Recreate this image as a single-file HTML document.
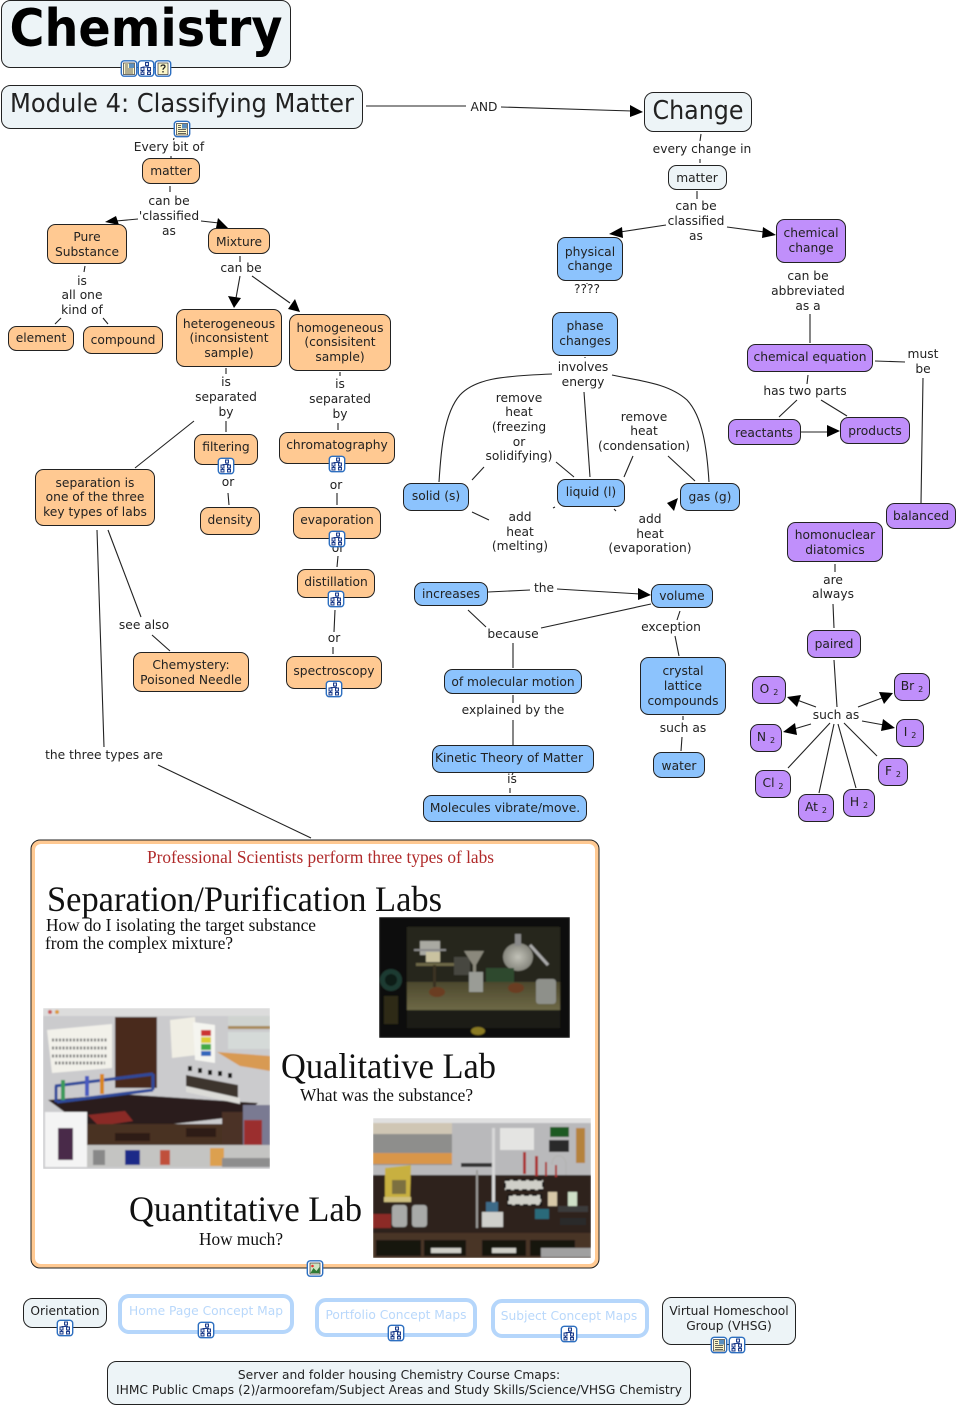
<!DOCTYPE html>
<html><head><meta charset="utf-8"><title>Chemistry</title>
<style>
html,body{margin:0;padding:0;background:#fff;width:958px;height:1406px;overflow:hidden}
svg{display:block;font-family:"DejaVu Sans","Liberation Sans",sans-serif}
text{font-size:12.25px;fill:#222;text-anchor:middle}
.n{stroke:#222;stroke-width:1}
.o{fill:#ffc992}.b{fill:#8cc3fd}.p{fill:#c08ffb}.w{fill:#edf4f7}
.l{fill:none;stroke:#222;stroke-width:1.1}
.h{fill:#fff;stroke:#b5d6fb;stroke-width:4}
.s{font-family:"Liberation Serif",serif;text-anchor:start;fill:#111}
</style></head><body>
<svg width="958" height="1406" viewBox="0 0 958 1406" xmlns="http://www.w3.org/2000/svg">
<defs>
<symbol id="im" viewBox="0 0 17 17"><rect x=".8" y=".8" width="15.4" height="15.4" rx="3" fill="#fff" stroke="#2d6fc0" stroke-width="1.4"/><g fill="none" stroke="#1d3c8a" stroke-width="1"><rect x="8" y="2.5" width="3" height="3" fill="#dfe6f5"/><rect x="3.5" y="7.5" width="3" height="3" fill="#dfe6f5"/><rect x="10" y="7.5" width="3" height="3" fill="#dfe6f5"/><rect x="3.5" y="12" width="3" height="2.5" fill="#dfe6f5"/><rect x="10" y="12" width="3" height="2.5" fill="#dfe6f5"/><path d="M9.5 5.5V7M5 7H11.5M5 10.5V12M11.5 10.5V12"/></g></symbol>
<symbol id="in" viewBox="0 0 17 17"><rect x=".8" y=".8" width="15.4" height="15.4" rx="3" fill="#fff" stroke="#2d6fc0" stroke-width="1.4"/><rect x="3" y="3" width="11" height="11.5" fill="#fbf6c8" stroke="#333" stroke-width=".7"/><rect x="8.5" y="3.5" width="5" height="4.5" fill="#5a8fc0"/><path d="M4.5 5h3M4.5 7h3M4.5 9h8M4.5 11h8M4.5 13h8" stroke="#333" stroke-width=".8"/></symbol>
<symbol id="iq" viewBox="0 0 17 17"><rect x=".8" y=".8" width="15.4" height="15.4" rx="3" fill="#fff" stroke="#2d6fc0" stroke-width="1.4"/><rect x="3.5" y="3" width="10" height="11.5" fill="#fbf6c8" stroke="#333" stroke-width=".7"/><path d="M6.5 6.5c0-2 4-2 4 0 0 1.600-2 1.500-2 3.200M8.500 11v1.500" fill="none" stroke="#222" stroke-width="1.300"/></symbol>
<symbol id="ip" viewBox="0 0 17 17"><rect x=".8" y=".8" width="15.4" height="15.4" rx="3" fill="#fff" stroke="#2d6fc0" stroke-width="1.4"/><rect x="3.500" y="3" width="10" height="11" fill="#cfe3c0" stroke="#333" stroke-width=".7"/><path d="M4 13l3-5 3 3 3-4v6z" fill="#2f7a35"/><circle cx="6" cy="6" r="1.300" fill="#e33"/></symbol>
<linearGradient id="tab" x1="0" y1="0" x2="0" y2="1"><stop offset="0" stop-color="#4c482d"/><stop offset="1" stop-color="#6d6846"/></linearGradient>
<radialGradient id="gl"><stop offset="0" stop-color="#c2c2b8"/><stop offset="1" stop-color="#85857c"/></radialGradient>
<filter id="bl" x="0" y="0" width="1" height="1"><feGaussianBlur stdDeviation=".8"/></filter>
<clipPath id="c1"><rect x="379" y="917" width="191" height="121"/></clipPath>
<clipPath id="c2"><rect x="43" y="1008" width="227" height="161"/></clipPath>
<clipPath id="c3"><rect x="373" y="1118" width="218" height="140"/></clipPath>
</defs>

<!-- connectors -->
<g class="l">
<path d="M174 138l-.5 2M171 156v2M170 186v6"/>
<path d="M138 219L116 221M201 221L219 223"/>
<path d="M240 256v6M240 276L236 298M252 276L290 303"/>
<path d="M85 266l-1 6M61 318l-6 6M103 318l5 6"/>
<path d="M226 368v6M226 421v11M194 421L135 468"/>
<path d="M228 493l1 12M340 372v4M338 423v7M337 493v12M338 556l-1 11M335 610l-1 22M333 647v7"/>
<path d="M108 530L141 617M152 635L170 651M97 530L104 747M158 765L311 838"/>
<path d="M366 106H466M501 107L632 111"/>
<path d="M701 134l-1 7M700 159v4M697 191v8M666 225L620 232M727 227L764 232"/>
<path d="M587 283v1M585 357v1"/>
<path d="M552 374C500 376 475 379 460 395C444 413 441 450 439 482"/>
<path d="M584 392L590 477"/>
<path d="M612 375C640 381 668 383 687 400C703 417 707 450 709 482"/>
<path d="M484 467L472 480M556 462L574 477M633 456L624 477M668 456L695 481M472 512L489 520M553 508l2-1M614 509l2 2"/>
<path d="M488 592L530 590M557 589L640 594M468 610L486 627M541 628L651 604M513 643V668"/>
<path d="M513 695v8M513 720V745M513 773l-1 2M510 788v5M680 611l-3 9M675 636L679 656M683 716v4M682 737l-1 14"/>
<path d="M810 314V343M875 361L905 362M923 378L921 503M808 375l-1 9M797 400L779 417M821 400L847 416M801 432H829"/>
<path d="M835 564v8M833 604l1 24M834 660L837 707M816 707L797 700M811 724L794 729M858 707L882 698M862 721L884 725"/>
<path d="M830 723L788 768M834 724L819 793M838 724L856 788M844 723L877 756"/>
</g>
<g fill="#000">
<polygon points="105,222 116,216 119,225"/>
<polygon points="228,228 218,218 216,228"/>
<polygon points="234,308 228,296 241,298"/>
<polygon points="300,312 288,309 295,299"/>
<polygon points="643,112 630,105 630,117"/>
<polygon points="609,234 622,227 623,238"/>
<polygon points="776,235 763,227 762,238"/>
<polygon points="678,498 667,503 674,511"/>
<polygon points="840,431 827,425 827,437"/>
<polygon points="651,595 638,588 638,600"/>
<polygon points="787,697 801,695 797,707"/>
<polygon points="783,732 797,735 795,723"/>
<polygon points="893,693 884,704 879,692"/>
<polygon points="895,728 883,719 881,731"/>
</g>

<!-- nodes -->
<g class="n">
<rect class="w" x="1.500" y=".5" width="289" height="67" rx="9"/>
<rect class="w" x="1.500" y="85.500" width="361" height="43" rx="9"/>
<rect class="w" x="644.500" y="92.500" width="107" height="39" rx="9"/>
<rect class="w" x="668.500" y="165.500" width="58" height="24" rx="8"/>
<g class="o">
<rect x="142.500" y="158.500" width="57" height="25" rx="8"/>
<rect x="47.500" y="224.500" width="79" height="39" rx="8"/>
<rect x="208.500" y="228.500" width="61" height="25" rx="8"/>
<rect x="8.500" y="326.500" width="65" height="24" rx="8"/>
<rect x="83.500" y="326.500" width="79" height="27" rx="8"/>
<rect x="176.500" y="309.500" width="105" height="57" rx="8"/>
<rect x="289.500" y="314.500" width="101" height="56" rx="8"/>
<rect x="194.500" y="434.500" width="63" height="30" rx="8"/>
<rect x="200.500" y="507.500" width="59" height="27" rx="8"/>
<rect x="279.500" y="432.500" width="115" height="31" rx="8"/>
<rect x="293.500" y="507.500" width="87" height="31" rx="8"/>
<rect x="297.500" y="569.500" width="77" height="28" rx="8"/>
<rect x="286.500" y="656.500" width="95" height="32" rx="8"/>
<rect x="35.500" y="469.500" width="119" height="56" rx="8"/>
<rect x="133.500" y="652.500" width="115" height="39" rx="8"/>
</g>
<g class="b">
<rect x="557.500" y="237.500" width="65" height="43" rx="8"/>
<rect x="552.500" y="312.500" width="65" height="43" rx="8"/>
<rect x="403.500" y="483.500" width="65" height="27" rx="8"/>
<rect x="557.500" y="479.500" width="67" height="27" rx="8"/>
<rect x="680.500" y="483.500" width="59" height="27" rx="8"/>
<rect x="414.500" y="582.500" width="73" height="23" rx="8"/>
<rect x="651.500" y="584.500" width="61" height="23" rx="8"/>
<rect x="444.500" y="669.500" width="137" height="24" rx="8"/>
<rect x="432.500" y="745.500" width="161" height="27" rx="8"/>
<rect x="423.500" y="795.500" width="163" height="26" rx="8"/>
<rect x="640.500" y="657.500" width="85" height="57" rx="8"/>
<rect x="653.500" y="752.500" width="51" height="25" rx="8"/>
</g>
<g class="p">
<rect x="776.500" y="219.500" width="69" height="43" rx="8"/>
<rect x="747.500" y="344.500" width="125" height="27" rx="8"/>
<rect x="728.500" y="419.500" width="72" height="25" rx="8"/>
<rect x="840.500" y="417.500" width="69" height="26" rx="8"/>
<rect x="886.500" y="503.500" width="69" height="25" rx="8"/>
<rect x="787.500" y="522.500" width="95" height="39" rx="8"/>
<rect x="807.500" y="630.500" width="53" height="27" rx="8"/>
<rect x="752.500" y="676.500" width="33" height="27" rx="8"/>
<rect x="894.500" y="673.500" width="35" height="27" rx="8"/>
<rect x="750.500" y="724.500" width="31" height="27" rx="8"/>
<rect x="896.500" y="719.500" width="27" height="27" rx="8"/>
<rect x="755.500" y="770.500" width="35" height="27" rx="8"/>
<rect x="878.500" y="758.500" width="29" height="27" rx="8"/>
<rect x="798.500" y="794.500" width="35" height="27" rx="8"/>
<rect x="843.500" y="789.500" width="31" height="27" rx="8"/>
</g>
<rect class="w" x="23.500" y="1298.500" width="83" height="29" rx="9"/>
<rect class="w" x="662.500" y="1297.500" width="133" height="47" rx="9"/>
<rect class="w" x="107.500" y="1361.500" width="583" height="43" rx="9"/>
</g>
<rect class="h" x="120" y="1296" width="172" height="36" rx="9"/>
<rect class="h" x="317" y="1300" width="158" height="35" rx="9"/>
<rect class="h" x="493" y="1301" width="154" height="35" rx="9"/>

<!-- large box -->
<rect x="31" y="840" width="568" height="428" rx="9" fill="#ffc992" stroke="#222"/>
<rect x="35" y="844" width="560" height="420" rx="6" fill="#fff"/>

<!-- Lab 1 -->
<g clip-path="url(#c1)"><g filter="url(#bl)">
<rect x="379" y="917" width="191" height="121" fill="#0c0c0a"/>
<rect x="407" y="927" width="153" height="56" fill="#27271a"/>
<rect x="407" y="982" width="153" height="28" fill="url(#tab)"/>
<rect x="407" y="1010" width="153" height="18" fill="#1d1b15"/>
<ellipse cx="518" cy="957" rx="15" ry="14" fill="url(#gl)"/>
<rect x="515" y="934" width="6" height="12" fill="#888"/>
<path d="M530 945L548 965" stroke="#aaa" stroke-width="3"/>
<rect x="420" y="941" width="20" height="14" fill="#a9a9a2"/>
<rect x="414" y="949" width="32" height="2" fill="#888"/>
<rect x="426" y="952" width="14" height="10" fill="#c9c2a0"/>
<rect x="416" y="963" width="40" height="3" fill="#6d6846"/>
<rect x="433" y="965" width="3" height="22" fill="#3a3020"/>
<ellipse cx="437" cy="992" rx="8" ry="5" fill="#6b3c20"/>
<rect x="454" y="957" width="16" height="18" fill="#47473f"/>
<path d="M464 951h20l-8 14v10h-3v-10z" fill="#8a887c"/>
<rect x="469" y="972" width="14" height="20" fill="#9a9c96"/>
<rect x="486" y="968" width="28" height="14" fill="#2f4a2e"/>
<ellipse cx="516" cy="988" rx="8" ry="5" fill="#6b3c20"/>
<rect x="536" y="979" width="20" height="25" rx="3" fill="#8e908a"/>
<circle cx="391" cy="980" r="11" fill="#1d3a32"/><circle cx="391" cy="980" r="6" fill="#0a1a18"/>
<rect x="384" y="996" width="14" height="28" fill="#2f2a14"/>
<ellipse cx="478" cy="1031" rx="7" ry="4" fill="#8a7a20"/>
</g></g>

<!-- Lab 2 -->
<g clip-path="url(#c2)"><g filter="url(#bl)">
<rect x="43" y="1008" width="227" height="161" fill="#cbcbcd"/>
<rect x="43" y="1008" width="227" height="8" fill="#dcdcdc"/>
<circle cx="50" cy="1012" r="2" fill="#c55"/><circle cx="57" cy="1012" r="2" fill="#d93"/>
<polygon points="47,1030 112,1024 112,1068 52,1073" fill="#f2f1ea"/>
<path d="M52 1040h55M52 1048h55M52 1056h55M55 1063h50" stroke="#777" stroke-width="3" stroke-dasharray="2 1.500"/>
<rect x="115" y="1017" width="42" height="71" fill="#4a2c1e"/>
<polygon points="170,1020 195,1017 197,1055 172,1058" fill="#f0eee4"/>
<polygon points="193,1022 215,1025 215,1063 195,1060" fill="#f5f5f0"/>
<rect x="201" y="1030" width="10" height="6" fill="#c33"/><rect x="201" y="1037" width="10" height="6" fill="#dc3"/><rect x="201" y="1044" width="10" height="6" fill="#4a4"/><rect x="201" y="1051" width="10" height="5" fill="#36b"/>
<rect x="228" y="1016" width="42" height="12" fill="#cfd3d0"/><rect x="228" y="1026" width="42" height="3" fill="#a88a5a"/>
<rect x="228" y="1032" width="42" height="17" fill="#d5dad8"/>
<polygon points="217,1052 270,1056 270,1071 240,1066" fill="#d89a52"/>
<polygon points="48,1100 120,1094 258,1103 243,1116 87,1134 70,1116" fill="#2b1f1a"/>
<g fill="none" stroke="#2f4a9a" stroke-width="3"><path d="M55 1086L153 1074M57 1102L153 1090M56 1086v16M153 1074v16"/></g>
<rect x="61" y="1080" width="4" height="20" fill="#3a9a5a"/><rect x="85" y="1076" width="4" height="20" fill="#4a5ac0"/><rect x="100" y="1074" width="4" height="20" fill="#d8861e"/>
<path d="M186 1075l52 10v15l-52-10z" fill="#3d342e"/>
<path d="M186 1086l54 12v6l-54-12z" fill="#dcdcd8"/>
<path d="M188 1066h4v5h-4zM198 1068h4v5h-4zM208 1070h4v5h-4zM218 1071h4v5h-4zM228 1073h4v5h-4z" fill="#111"/>
<polygon points="88,1115 125,1111 133,1121 99,1126" fill="#8a2a28"/>
<rect x="87" y="1124" width="135" height="24" fill="#4a3024"/>
<rect x="115" y="1133" width="35" height="8" fill="#2f1e16"/><rect x="186" y="1128" width="30" height="9" fill="#2f1e16"/>
<rect x="222" y="1112" width="30" height="34" fill="#4b3226"/>
<rect x="243" y="1105" width="27" height="40" fill="#7a7a92"/>
<rect x="244" y="1120" width="18" height="25" fill="#9b2d2d"/>
<rect x="87" y="1145" width="183" height="22" fill="#c4c4c2"/>
<rect x="93" y="1150" width="12" height="15" fill="#888"/><rect x="125" y="1150" width="15" height="15" fill="#1a2a88"/><rect x="160" y="1150" width="10" height="15" fill="#c0503a"/><rect x="210" y="1148" width="14" height="18" fill="#dca050"/>
<rect x="222" y="1158" width="48" height="9" fill="#8e8e8e"/>
<rect x="45" y="1112" width="42" height="55" fill="#f4f4f4"/>
<rect x="58" y="1128" width="15" height="32" fill="#4a2a4a"/>
</g></g>

<!-- Lab 3 -->
<g clip-path="url(#c3)"><g filter="url(#bl)">
<rect x="373" y="1118" width="218" height="140" fill="#b9b9bb"/>
<rect x="373" y="1118" width="218" height="5" fill="#e0e0e0"/>
<rect x="373" y="1123" width="79" height="42" fill="#8e8e8c"/>
<rect x="373" y="1123" width="79" height="11" fill="#cfc6b4"/>
<rect x="373" y="1153" width="79" height="11" fill="#d9964a"/>
<rect x="500" y="1128" width="34" height="22" fill="#e4e4e2"/>
<rect x="550" y="1127" width="19" height="10" fill="#1f5a22"/>
<rect x="549" y="1140" width="20" height="12" fill="#2b2b2b"/>
<rect x="576" y="1128" width="9" height="35" fill="#b5823e"/>
<rect x="373" y="1175" width="218" height="58" fill="#2e231e"/>
<polygon points="385,1168 411,1165 410,1200 385,1200" fill="#c8b040"/>
<rect x="392" y="1180" width="14" height="14" fill="#7b7040"/>
<rect x="384" y="1197" width="27" height="5" fill="#cfc080"/>
<rect x="392" y="1205" width="15" height="22" rx="3" fill="#a9aaa8"/><rect x="412" y="1205" width="15" height="22" rx="3" fill="#a9aaa8"/>
<rect x="373" y="1214" width="18" height="14" fill="#8c2c28"/>
<rect x="476" y="1170" width="2" height="58" fill="#9b9b98"/>
<rect x="461" y="1163" width="32" height="4" fill="#333"/>
<rect x="492" y="1128" width="3" height="75" fill="#d8d8d8"/>
<rect x="482" y="1212" width="21" height="15" fill="#cfcfcb"/><rect x="486" y="1202" width="12" height="10" fill="#3e6a88"/>
<rect x="505" y="1180" width="38" height="10" fill="#cfcfc8" stroke="#111" stroke-width="2" stroke-dasharray="5 3"/>
<rect x="508" y="1195" width="33" height="10" fill="#cfcfc8" stroke="#111" stroke-width="2" stroke-dasharray="5 3"/>
<rect x="523" y="1152" width="3" height="22" fill="#a33"/><rect x="535" y="1156" width="3" height="20" fill="#a33"/><rect x="545" y="1162" width="2" height="14" fill="#a33"/><rect x="555" y="1165" width="2" height="12" fill="#a33"/>
<path d="M552 1165c0-12 12-12 14-2v12" fill="none" stroke="#b5b5b5" stroke-width="2"/>
<rect x="548" y="1192" width="9" height="14" fill="#d7c8a8"/><rect x="568" y="1192" width="9" height="14" fill="#cfe0c8"/>
<rect x="535" y="1209" width="14" height="10" fill="#2a6a7a"/>
<rect x="558" y="1206" width="30" height="6" fill="#3a3a3a"/><rect x="560" y="1218" width="26" height="7" fill="#2c2c2c"/>
<rect x="373" y="1233" width="218" height="25" fill="#4a3428"/>
<rect x="376" y="1240" width="45" height="16" fill="#161210"/>
<rect x="424" y="1240" width="42" height="16" fill="#161210"/>
<rect x="482" y="1240" width="44" height="16" fill="#161210"/>
<rect x="530" y="1240" width="45" height="16" fill="#161210"/>
<rect x="431" y="1248" width="30" height="5" fill="#cfcfc8"/><rect x="492" y="1248" width="24" height="5" fill="#cfcfc8"/>
<rect x="541" y="1248" width="50" height="9" fill="#a0a0a0"/>
</g></g>

<!-- concept text -->
<text x="146" y="46" style="font-size:52px;font-weight:bold;fill:#000" textLength="273" lengthAdjust="spacingAndGlyphs">Chemistry</text>
<text x="182" y="112" style="font-size:26px" textLength="344" lengthAdjust="spacingAndGlyphs">Module 4: Classifying Matter</text>
<text x="698" y="119" style="font-size:26px" textLength="91" lengthAdjust="spacingAndGlyphs">Change</text>

<text x="169" y="151">Every bit of</text>
<text x="171" y="175">matter</text>
<text x="169" y="205">can be</text><text x="169" y="220">'classified</text><text x="169" y="235">as</text>
<text x="87" y="241">Pure</text><text x="87" y="256">Substance</text>
<text x="239" y="246">Mixture</text>
<text x="241" y="272">can be</text>
<text x="82" y="285">is</text><text x="82" y="299">all one</text><text x="82" y="314">kind of</text>
<text x="41" y="342">element</text><text x="123" y="344">compound</text>
<text x="229" y="328">heterogeneous</text><text x="229" y="342">(inconsistent</text><text x="229" y="357">sample)</text>
<text x="340" y="332">homogeneous</text><text x="340" y="346">(consisitent</text><text x="340" y="361">sample)</text>
<text x="226" y="386">is</text><text x="226" y="401">separated</text><text x="226" y="416">by</text>
<text x="340" y="388">is</text><text x="340" y="403">separated</text><text x="340" y="418">by</text>
<text x="226" y="451">filtering</text><text x="228" y="486">or</text><text x="230" y="524">density</text>
<text x="337" y="449">chromatography</text><text x="336" y="489">or</text>
<text x="337" y="524">evaporation</text><text x="338" y="552">or</text>
<text x="336" y="586">distillation</text><text x="334" y="642">or</text>
<text x="334" y="675">spectroscopy</text>
<text x="95" y="487">separation is</text><text x="95" y="501">one of the three</text><text x="95" y="516">key types of labs</text>
<text x="144" y="629">see also</text>
<text x="191" y="669">Chemystery:</text><text x="191" y="684">Poisoned Needle</text>
<text x="104" y="759">the three types are</text>

<text x="484" y="111">AND</text>
<text x="702" y="153">every change in</text>
<text x="697" y="182">matter</text>
<text x="696" y="210">can be</text><text x="696" y="225">classified</text><text x="696" y="240">as</text>
<text x="590" y="256">physical</text><text x="590" y="270">change</text>
<text x="587" y="293">????</text>
<text x="585" y="330">phase</text><text x="585" y="345">changes</text>
<text x="583" y="371">involves</text><text x="583" y="386">energy</text>
<text x="519" y="402">remove</text><text x="519" y="416">heat</text><text x="519" y="431">(freezing</text><text x="519" y="446">or</text><text x="519" y="460">solidifying)</text>
<text x="644" y="421">remove</text><text x="644" y="435">heat</text><text x="644" y="450">(condensation)</text>
<text x="436" y="500">solid (s)</text><text x="591" y="496">liquid (l)</text><text x="710" y="501">gas (g)</text>
<text x="520" y="521">add</text><text x="520" y="536">heat</text><text x="520" y="550">(melting)</text>
<text x="650" y="523">add</text><text x="650" y="538">heat</text><text x="650" y="552">(evaporation)</text>
<text x="451" y="598">increases</text><text x="544" y="592">the</text><text x="682" y="600">volume</text>
<text x="513" y="638">because</text><text x="513" y="686">of molecular motion</text>
<text x="513" y="714">explained by the</text>
<text x="509" y="762">Kinetic Theory of Matter</text>
<text x="512" y="783">is</text>
<text x="505" y="812">Molecules vibrate/move.</text>
<text x="671" y="631">exception</text>
<text x="683" y="675">crystal</text><text x="683" y="690">lattice</text><text x="683" y="705">compounds</text>
<text x="683" y="732">such as</text><text x="679" y="770">water</text>

<text x="811" y="237">chemical</text><text x="811" y="252">change</text>
<text x="808" y="280">can be</text><text x="808" y="295">abbreviated</text><text x="808" y="310">as a</text>
<text x="810" y="361">chemical equation</text>
<text x="923" y="358">must</text><text x="923" y="373">be</text>
<text x="805" y="395">has two parts</text>
<text x="764" y="437">reactants</text><text x="875" y="435">products</text>
<text x="921" y="520">balanced</text>
<text x="835" y="539">homonuclear</text><text x="835" y="554">diatomics</text>
<text x="833" y="584">are</text><text x="833" y="598">always</text>
<text x="834" y="648">paired</text>
<text x="836" y="719">such as</text>
<text x="769" y="693">O <tspan dy="2" style="font-size:8px">2</tspan></text>
<text x="912" y="690">Br <tspan dy="2" style="font-size:8px">2</tspan></text>
<text x="766" y="741">N <tspan dy="2" style="font-size:8px">2</tspan></text>
<text x="910" y="736">I <tspan dy="2" style="font-size:8px">2</tspan></text>
<text x="773" y="787">Cl <tspan dy="2" style="font-size:8px">2</tspan></text>
<text x="893" y="775">F <tspan dy="2" style="font-size:8px">2</tspan></text>
<text x="816" y="811">At <tspan dy="2" style="font-size:8px">2</tspan></text>
<text x="859" y="806">H <tspan dy="2" style="font-size:8px">2</tspan></text>

<!-- bottom -->
<text x="65" y="1315">Orientation</text>
<text x="206" y="1315" style="fill:#b9d8fb">Home Page Concept Map</text>
<text x="396" y="1319" style="fill:#b9d8fb">Portfolio Concept Maps</text>
<text x="569" y="1320" style="fill:#b9d8fb">Subject Concept Maps</text>
<text x="729" y="1315">Virtual Homeschool</text><text x="729" y="1330">Group (VHSG)</text>
<text x="399" y="1379">Server and folder housing Chemistry Course Cmaps:</text>
<text x="399" y="1394">IHMC Public Cmaps (2)/armoorefam/Subject Areas and Study Skills/Science/VHSG Chemistry</text>

<!-- box text -->
<text class="s" x="147" y="863" style="font-size:18px;fill:#b02a2a" textLength="347" lengthAdjust="spacingAndGlyphs">Professional Scientists perform three types of labs</text>
<text class="s" x="47" y="911" style="font-size:36px" textLength="395" lengthAdjust="spacingAndGlyphs">Separation/Purification Labs</text>
<text class="s" x="46" y="931" style="font-size:18px" textLength="270" lengthAdjust="spacingAndGlyphs">How do I isolating the target substance</text>
<text class="s" x="45" y="949" style="font-size:18px" textLength="188" lengthAdjust="spacingAndGlyphs">from the complex mixture?</text>
<text class="s" x="281" y="1078" style="font-size:36px" textLength="215" lengthAdjust="spacingAndGlyphs">Qualitative Lab</text>
<text class="s" x="300" y="1101" style="font-size:18px" textLength="173" lengthAdjust="spacingAndGlyphs">What was the substance?</text>
<text class="s" x="129" y="1221" style="font-size:36px" textLength="233" lengthAdjust="spacingAndGlyphs">Quantitative Lab</text>
<text class="s" x="199" y="1245" style="font-size:18px" textLength="84" lengthAdjust="spacingAndGlyphs">How much?</text>

<!-- icons -->
<use href="#in" x="120.500" y="60" width="17" height="17"/>
<use href="#im" x="137.500" y="60" width="17" height="17"/>
<use href="#iq" x="154.500" y="60" width="17" height="17"/>
<use href="#in" x="173.500" y="120.500" width="17" height="17"/>
<use href="#im" x="217.500" y="457.500" width="17" height="17"/>
<use href="#im" x="328.500" y="455.500" width="17" height="17"/>
<use href="#im" x="328.500" y="530.500" width="17" height="17"/>
<use href="#im" x="327.500" y="590.500" width="17" height="17"/>
<use href="#im" x="325.500" y="680.500" width="17" height="17"/>
<use href="#ip" x="306.500" y="1260" width="17" height="17"/>
<use href="#im" x="56.500" y="1319.500" width="17" height="17"/>
<use href="#im" x="197.500" y="1321.500" width="17" height="17"/>
<use href="#im" x="387.500" y="1324.500" width="17" height="17"/>
<use href="#im" x="560.500" y="1325.500" width="17" height="17"/>
<use href="#in" x="710.500" y="1336.500" width="17" height="17"/>
<use href="#im" x="728.500" y="1336.500" width="17" height="17"/>
</svg>
</body></html>
